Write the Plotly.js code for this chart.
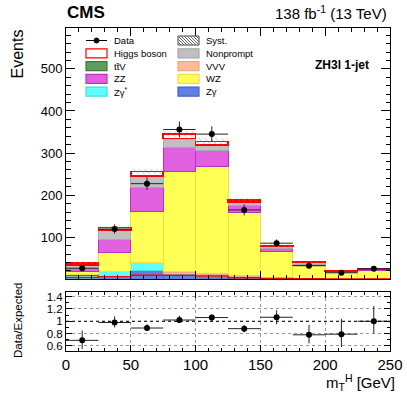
<!DOCTYPE html>
<html>
<head>
<meta charset="utf-8">
<script src="https://cdn.plot.ly/plotly-3.0.1.min.js"></script>
<style>html,body{margin:0;padding:0;background:#fff}#chart{width:407px;height:395px}</style>
</head>
<body>
<div id="chart"></div>
<script>
// bins of m_T^H, 25 GeV wide
const binCenters = [12.5, 37.5, 62.5, 87.5, 112.5, 137.5, 162.5, 187.5, 212.5, 237.5];

// stacked backgrounds, bottom to top
const zgamma    = [3, 5, 20, 11, 8, 4, 1, 0.5, 0.3, 0.3];
const zgstar    = [7, 13, 19, 5.5, 2.5, 1.5, 0.5, 0.3, 0.2, 0.2];
const ttv       = [0.5, 1, 1, 1, 1, 1, 0.5, 0.3, 0.2, 0.3];
const vvv       = [0.5, 0.5, 1, 1.5, 2, 2, 1.5, 1, 0.8, 1];
const wz        = [8, 43.5, 121, 238, 253.5, 150.5, 63.5, 30, 14.5, 19.5];
const zz        = [7, 31, 57, 56, 38, 16.5, 6, 2.5, 1.2, 1.5];
const nonprompt = [8.5, 23, 27, 22, 14, 8.5, 6, 5.5, 2, 2];
const higgs     = [4.5, 6, 10, 10, 8, 4, 2, 1.4, 0.8, 0.7];
const syst      = [2, 4, 6, 8, 8, 5, 3, 1.5, 1, 1];

const dataY   = [26.5, 119.7, 227.3, 356, 345, 165, 86, 32.5, 15.7, 25.3];
const dataErr = [5, 11, 15, 19, 18.5, 13, 9, 6, 4, 5];

const ratio     = [0.69, 0.98, 0.89, 1.02, 1.06, 0.88, 1.065, 0.78, 0.79, 1.0];
const ratioUp   = [0.16, 0.10, 0.06, 0.07, 0.05, 0.06, 0.115, 0.16, 0.25, 0.25];
const ratioDown = [0.14, 0.08, 0.05, 0.05, 0.06, 0.06, 0.115, 0.14, 0.21, 0.20];

const FONT = "Liberation Sans, Arial, Helvetica, sans-serif";

const stack = [
    {y: zgamma,    fill: "#6080e0", line: "#4060c8"},
    {y: zgstar,    fill: "#60ffff", line: "#40e0e0"},
    {y: ttv,       fill: "#5f9e5f", line: "#3d7d3d"},
    {y: vvv,       fill: "#ffbb99", line: "#f0a888"},
    {y: wz,        fill: "#ffff55", line: "#f0e040"},
    {y: zz,        fill: "#e060e0", line: "#c030c0"},
    {y: nonprompt, fill: "#c0c0c0", line: "#a8a8a8"},
    {y: higgs,     fill: "#ffffff", line: "#ff0000", lw: 1.5}
];

const total = binCenters.map((_, i) => stack.reduce((s, h) => s + h.y[i], 0));

const traces = stack.map(h => ({
    type: "bar", x: binCenters, y: h.y, width: 25,
    marker: {color: h.fill, line: {color: h.line, width: h.lw || 1}},
    xaxis: "x", yaxis: "y", showlegend: false, hoverinfo: "skip"
}));

// systematic band (hatched, drawn over the stack)
traces.push({
    type: "bar", x: binCenters, width: 25,
    base: total.map((t, i) => t - syst[i]),
    y: syst.map(s => 2 * s),
    marker: {color: "rgba(0,0,0,0)", line: {width: 0},
        pattern: {shape: "\\", fgcolor: "#888", bgcolor: "rgba(0,0,0,0)", size: 4, solidity: 0.15}},
    opacity: 0.8,
    xaxis: "x", yaxis: "y", showlegend: false, hoverinfo: "skip"
});

// Higgs alone as a red step line
const edges = binCenters.map(c => c - 12.5).concat([250]);
traces.push({
    type: "scatter", mode: "lines", x: edges, y: higgs.concat([higgs[higgs.length - 1]]),
    line: {shape: "hv", color: "#ff0000", width: 1.5},
    xaxis: "x", yaxis: "y", showlegend: false, hoverinfo: "skip"
});

traces.push({
    type: "scatter", mode: "markers", x: binCenters, y: dataY,
    marker: {color: "black", size: 6},
    error_y: {type: "data", array: dataErr, color: "#222", thickness: 1, width: 0},
    error_x: {type: "constant", value: 12.5, color: "#222", thickness: 1, width: 0},
    xaxis: "x", yaxis: "y", showlegend: false
});

traces.push({
    type: "scatter", mode: "markers", x: binCenters, y: ratio,
    marker: {color: "black", size: 6},
    error_y: {type: "data", symmetric: false, array: ratioUp, arrayminus: ratioDown, color: "#222", thickness: 1, width: 0},
    error_x: {type: "constant", value: 12.5, color: "#222", thickness: 1, width: 0},
    xaxis: "x2", yaxis: "y2", showlegend: false
});

// pixel -> paper helpers (plot area 66..390 x 28..351)
const L = 66, R = 390, T = 28, B = 351;
const PX = p => (p - L) / (R - L);
const PY = p => (B - p) / (B - T);

const shapes = [
    {type: "line", xref: "x2 domain", yref: "y2", x0: 0, x1: 1, y0: 1, y1: 1,
     line: {color: "black", width: 1, dash: "dot"}}
];
const annotations = [
    {x: PX(65), y: PY(12), text: "<b>CMS</b>", xanchor: "left", font: {size: 17}},
    {x: PX(389), y: PY(12), text: "138 fb<sup>-1</sup> (13 TeV)", xanchor: "right", font: {size: 15}},
    {x: PX(17), y: PY(28), text: "Events", textangle: -90, yanchor: "top", font: {size: 16}},
    {x: PX(18), y: PY(321), text: "Data/Expected", textangle: -90, font: {size: 11.5}},
    {x: PX(371), y: PY(65), text: "<b>ZH3l 1-jet</b>", xanchor: "right", font: {size: 12}},
    {x: PX(397), y: PY(382), text: "m<sub>T</sub><sup>H</sup> [GeV]", xanchor: "right", font: {size: 15}}
];

// hand-drawn legend, two columns
const legendItems = [
    {label: "Data", col: 0, row: 0, kind: "data"},
    {label: "Higgs boson", col: 0, row: 1, fill: "#ffffff", line: "#ff0000"},
    {label: "tt\u0304V", col: 0, row: 2, fill: "#5f9e5f", line: "#3d7d3d"},
    {label: "ZZ", col: 0, row: 3, fill: "#e060e0", line: "#c030c0"},
    {label: "Z\u03b3<sup>*</sup>", col: 0, row: 4, fill: "#60ffff", line: "#40e0e0"},
    {label: "Syst.", col: 1, row: 0, kind: "hatch"},
    {label: "Nonprompt", col: 1, row: 1, fill: "#c0c0c0", line: "#a8a8a8"},
    {label: "VVV", col: 1, row: 2, fill: "#ffbb99", line: "#f0a888"},
    {label: "WZ", col: 1, row: 3, fill: "#ffff55", line: "#f0e040"},
    {label: "Z\u03b3", col: 1, row: 4, fill: "#6080e0", line: "#4060c8"}
];
const colX = [86, 178];
legendItems.forEach(it => {
    const x0 = colX[it.col], x1 = x0 + 21;
    const cy = 40.5 + it.row * 12.8, y0 = cy - 4.5, y1 = cy + 4.5;
    if (it.kind === "data") {
        shapes.push({type: "line", xref: "paper", yref: "paper", x0: PX(x0), x1: PX(x1), y0: PY(cy), y1: PY(cy),
            line: {color: "black", width: 1}});
        shapes.push({type: "circle", xref: "paper", yref: "paper", x0: PX(x0 + 8), x1: PX(x0 + 13),
            y0: PY(cy - 2.5), y1: PY(cy + 2.5), fillcolor: "black", line: {color: "black", width: 1}});
    } else if (it.kind === "hatch") {
        shapes.push({type: "rect", xref: "paper", yref: "paper", x0: PX(x0), x1: PX(x1), y0: PY(y0), y1: PY(y1),
            fillcolor: "white", line: {color: "#444", width: 1}});
        let path = "";
        const h = y1 - y0;
        for (let s = x0 - h; s < x1; s += 3) {
            const t0 = Math.max(0, x0 - s), t1 = Math.min(h, x1 - s);
            if (t1 <= t0) continue;
            path += `M${PX(s + t0)},${PY(y0 + t0)} L${PX(s + t1)},${PY(y0 + t1)} `;
        }
        shapes.push({type: "path", xref: "paper", yref: "paper", path: path, line: {color: "#666", width: 1}});
    } else {
        shapes.push({type: "rect", xref: "paper", yref: "paper", x0: PX(x0), x1: PX(x1), y0: PY(y0), y1: PY(y1),
            fillcolor: it.fill, line: {color: it.line, width: 1.2}});
    }
    annotations.push({x: PX(x1 + 5), y: PY(cy), text: it.label, xanchor: "left", font: {size: 9.5}});
});
annotations.forEach(a => {
    a.xref = "paper"; a.yref = "paper"; a.showarrow = false;
    if (!a.yanchor) a.yanchor = "middle";
    if (!a.xanchor) a.xanchor = "center";
});

const axisBase = {
    showline: true, linecolor: "black", linewidth: 1, mirror: "allticks",
    ticks: "inside", tickcolor: "black", zeroline: false, showgrid: false
};

const layout = {
    width: 407, height: 395,
    margin: {l: L, r: 407 - R, t: T, b: 395 - B, autoexpand: false},
    paper_bgcolor: "white", plot_bgcolor: "white",
    font: {family: FONT, color: "black"},
    barmode: "stack", bargap: 0,
    showlegend: false,
    xaxis: Object.assign({}, axisBase, {
        domain: [0, 1], anchor: "y", range: [0, 250], showticklabels: false,
        tick0: 0, dtick: 50, ticklen: 8, minor: {ticks: "inside", ticklen: 4, dtick: 10, tickcolor: "black"}
    }),
    yaxis: Object.assign({}, axisBase, {
        domain: [0.223, 1], anchor: "x", range: [1, 597],
        tick0: 0, dtick: 100, ticklen: 9, tickfont: {size: 13},
        minor: {ticks: "inside", ticklen: 4.5, dtick: 20, tickcolor: "black"}
    }),
    xaxis2: Object.assign({}, axisBase, {
        domain: [0, 1], anchor: "y2", range: [0, 250],
        tick0: 0, dtick: 50, ticklen: 6, tickfont: {size: 15},
        minor: {ticks: "inside", ticklen: 3, dtick: 10, tickcolor: "black"},
        showgrid: true, gridcolor: "#999", griddash: "dot", gridwidth: 1
    }),
    yaxis2: Object.assign({}, axisBase, {
        domain: [0, 0.1836], anchor: "x2", range: [0.517, 1.48],
        tick0: 0.6, dtick: 0.2, ticklen: 6, tickfont: {size: 11.5},
        minor: {ticks: "inside", ticklen: 3, dtick: 0.1, tickcolor: "black"},
        showgrid: true, gridcolor: "#999", griddash: "dot", gridwidth: 1
    }),
    shapes: shapes,
    annotations: annotations
};

Plotly.newPlot("chart", traces, layout, {staticPlot: true});
</script>
</body>
</html>
